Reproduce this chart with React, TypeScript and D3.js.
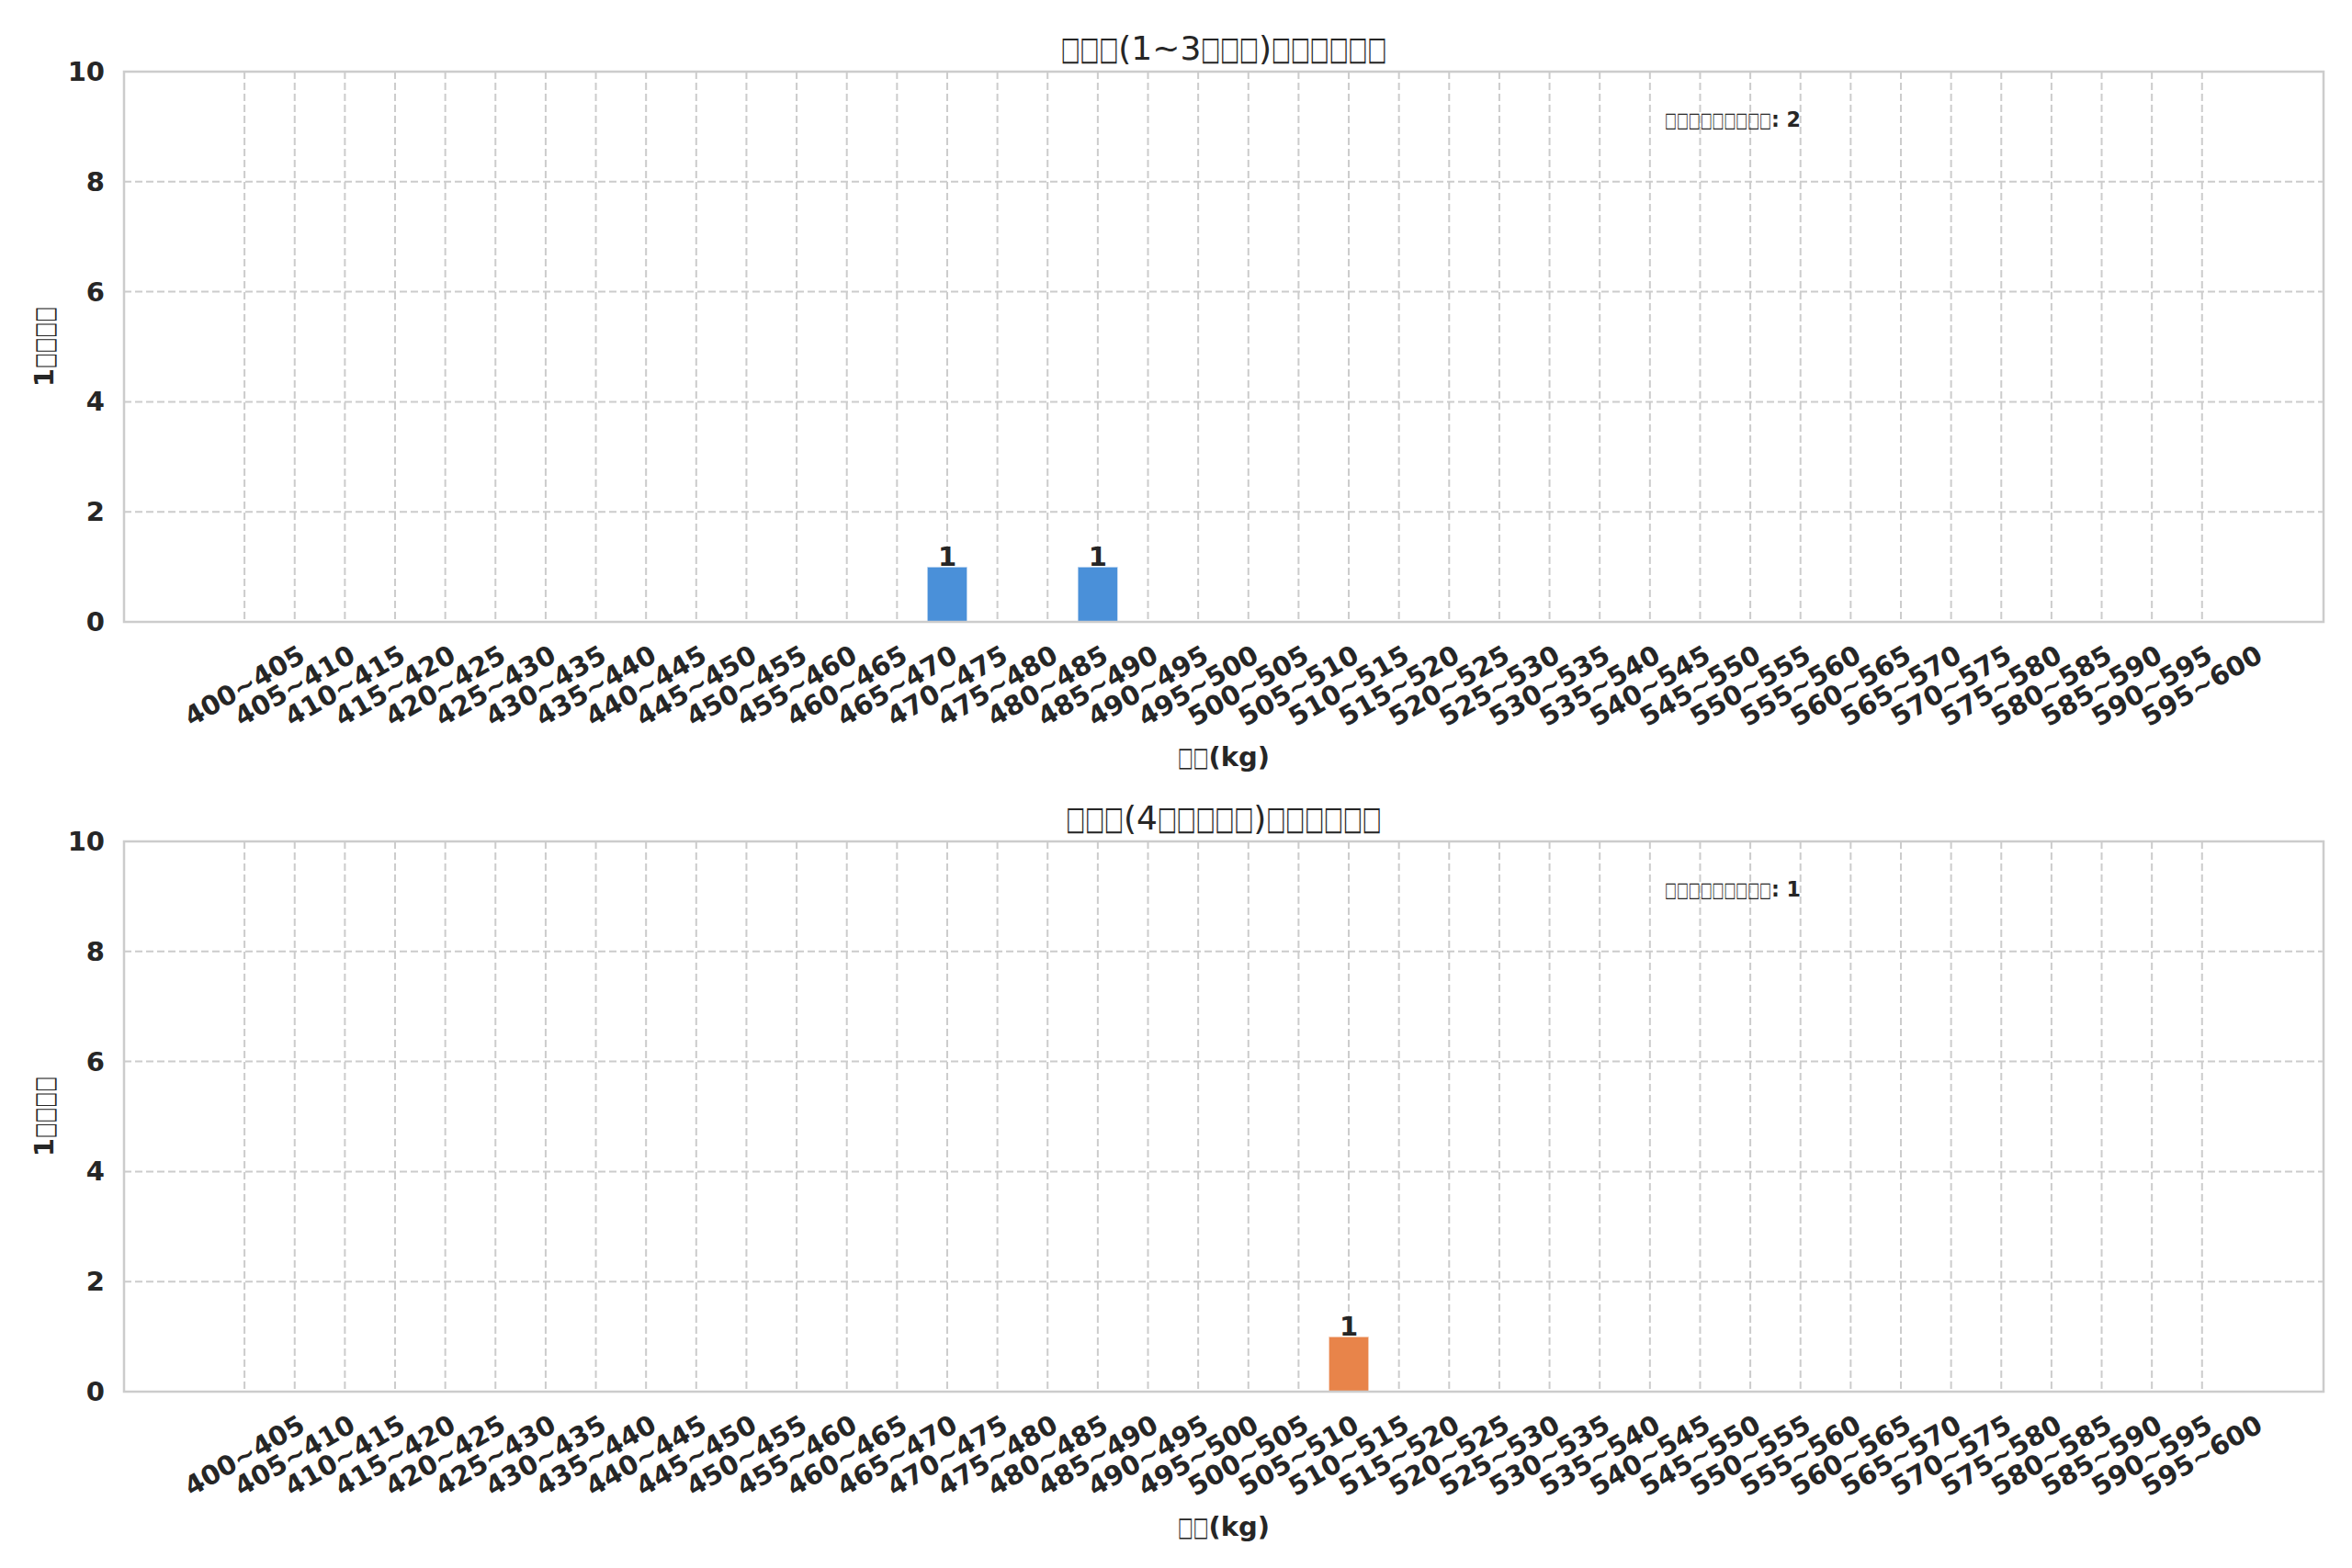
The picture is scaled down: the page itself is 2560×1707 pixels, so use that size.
import React from "react";
import * as d3 from "d3";

const CATEGORIES = [
  "400~405", "405~410", "410~415", "415~420", "420~425", "425~430", "430~435", "435~440",
  "440~445", "445~450", "450~455", "455~460", "460~465", "465~470", "470~475", "475~480",
  "480~485", "485~490", "490~495", "495~500", "500~505", "505~510", "510~515", "515~520",
  "520~525", "525~530", "530~535", "535~540", "540~545", "545~550", "550~555", "555~560",
  "560~565", "565~570", "570~575", "575~580", "580~585", "585~590", "590~595", "595~600",
];

const YOUNG_COUNTS = [
  0, 0, 0, 0, 0, 0, 0, 0, 0, 0, 0, 0, 0, 0, 1, 0, 0, 1, 0, 0,
  0, 0, 0, 0, 0, 0, 0, 0, 0, 0, 0, 0, 0, 0, 0, 0, 0, 0, 0, 0,
];
const OLDER_COUNTS = [
  0, 0, 0, 0, 0, 0, 0, 0, 0, 0, 0, 0, 0, 0, 0, 0, 0, 0, 0, 0,
  0, 0, 1, 0, 0, 0, 0, 0, 0, 0, 0, 0, 0, 0, 0, 0, 0, 0, 0, 0,
];

const TITLES = ["□□□(1~3□□□)□□□□□□", "□□□(4□□□□□)□□□□□□"];
const COLORS = ["#4A90D9", "#E8844A"];
const X_LABEL = "□□(kg)";
const Y_LABEL = "1□□□□";
const TOTAL_LABEL = "□□□□□□□□□";
const Y_TICKS = [0, 2, 4, 6, 8, 10];

const W = 2560;
const H = 1707;
const LEFT = 135;
const RIGHT = 2529;
const PANEL_TOPS = [78, 916];
const PANEL_H = 599;
const TEXT = "#262626";
const GRID = "#cccccc";
const FONT = "'DejaVu Sans', sans-serif";
const TICK_FS = 29;
const LABEL_FS = 29;

function Tofu({ text, fs }: { text: string; fs: number }) {
  const runs: string[] = [];
  for (const ch of text) {
    const isBox = ch === "□";
    const last = runs[runs.length - 1];
    if (last !== undefined && (last[0] === "□") === isBox) runs[runs.length - 1] = last + ch;
    else runs.push(ch);
  }
  return (
    <>
      {runs.map((r, i) =>
        r[0] === "□" ? (
          <tspan key={i} textLength={r.length * 0.58 * fs} lengthAdjust="spacingAndGlyphs">
            {r}
          </tspan>
        ) : (
          <tspan key={i}>{r}</tspan>
        )
      )}
    </>
  );
}

function Panel({ top, counts, title, color }: { top: number; counts: number[]; title: string; color: string }) {
  const bottom = top + PANEL_H;
  const x = d3.scaleLinear().domain([-2.4, 41.42]).range([LEFT, RIGHT]);
  const y = d3.scaleLinear().domain([0, 10]).range([bottom, top]);
  const step = x(1) - x(0);
  const barW = 0.8 * step;
  const total = d3.sum(counts);
  const cx = (LEFT + RIGHT) / 2;
  return (
    <g>
      {Y_TICKS.map((t) => (
        <line key={"h" + t} x1={LEFT} x2={RIGHT} y1={y(t)} y2={y(t)} stroke={GRID} strokeWidth={2} strokeDasharray="8,4" />
      ))}
      {CATEGORIES.map((c, i) => (
        <line key={"v" + c} x1={x(i)} x2={x(i)} y1={top} y2={bottom} stroke={GRID} strokeWidth={2} strokeDasharray="8,4" />
      ))}
      {counts.map((v, i) =>
        v > 0 ? (
          <g key={"b" + i}>
            <rect x={x(i) - barW / 2} y={y(v)} width={barW} height={y(0) - y(v)} fill={color} stroke="#ffffff" strokeOpacity={0.6} strokeWidth={1.5} />
            <text x={x(i)} y={y(v) - 1} textAnchor="middle" fontSize={TICK_FS} fontWeight="bold" fill={TEXT} fontFamily={FONT}>
              {v}
            </text>
          </g>
        ) : null
      )}
      <rect x={LEFT} y={top} width={RIGHT - LEFT} height={PANEL_H} fill="none" stroke={GRID} strokeWidth={2.5} />
      {Y_TICKS.map((t) => (
        <text key={"yt" + t} x={114} y={y(t)} textAnchor="end" dominantBaseline="central" fontSize={TICK_FS} fontWeight="bold" fill={TEXT} fontFamily={FONT}>
          {t}
        </text>
      ))}
      {CATEGORIES.map((c, i) => (
        <text
          key={"xt" + c}
          transform={`translate(${x(i)},${bottom + 69.5}) rotate(-30)`}
          textAnchor="middle"
          dominantBaseline="central"
          fontSize={TICK_FS}
          fontWeight="bold"
          fill={TEXT}
          fontFamily={FONT}
        >
          {c}
        </text>
      ))}
      <text x={cx} y={top - 13} textAnchor="middle" fontSize={36} fill={TEXT} fontFamily={FONT}>
        <Tofu text={title} fs={36} />
      </text>
      <text x={cx} y={top + 756} textAnchor="middle" fontSize={LABEL_FS} fontWeight="bold" fill={TEXT} fontFamily={FONT}>
        <Tofu text={X_LABEL} fs={LABEL_FS} />
      </text>
      <text transform={`translate(58,${(top + bottom) / 2}) rotate(-90)`} textAnchor="middle" fontSize={LABEL_FS} fontWeight="bold" fill={TEXT} fontFamily={FONT}>
        <Tofu text={Y_LABEL} fs={LABEL_FS} />
      </text>
      <text x={1812} y={top + 60} fontSize={22.2} fontWeight="bold" fill={TEXT} fontFamily={FONT}>
        <Tofu text={`${TOTAL_LABEL}: ${total}`} fs={22.2} />
      </text>
    </g>
  );
}

export default function App() {
  const series = [YOUNG_COUNTS, OLDER_COUNTS];
  return (
    <svg width={W} height={H} style={{ position: "absolute", left: 0, top: 0, background: "#ffffff" }}>
      <rect x={0} y={0} width={W} height={H} fill="#ffffff" />
      {series.map((s, k) => (
        <Panel key={k} top={PANEL_TOPS[k]} counts={s} title={TITLES[k]} color={COLORS[k]} />
      ))}
    </svg>
  );
}
